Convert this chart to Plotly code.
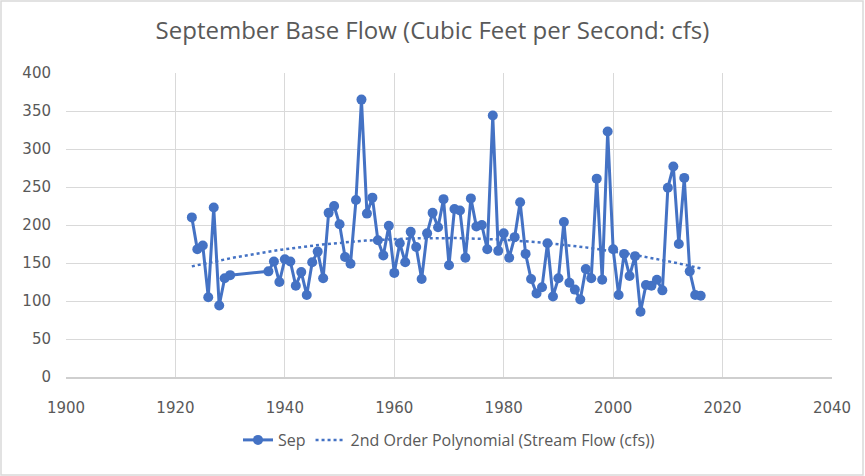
import numpy as np
import plotly.graph_objects as go

years = [1923, 1924, 1925, 1926, 1927, 1928, 1929, 1930,
         1937, 1938, 1939, 1940, 1941, 1942, 1943, 1944, 1945, 1946, 1947, 1948, 1949,
         1950, 1951, 1952, 1953, 1954, 1955, 1956, 1957, 1958, 1959,
         1960, 1961, 1962, 1963, 1964, 1965, 1966, 1967, 1968, 1969,
         1970, 1971, 1972, 1973, 1974, 1975, 1976, 1977, 1978, 1979,
         1980, 1981, 1982, 1983, 1984, 1985, 1986, 1987, 1988, 1989,
         1990, 1991, 1992, 1993, 1994, 1995, 1996, 1997, 1998, 1999,
         2000, 2001, 2002, 2003, 2004, 2005, 2006, 2007, 2008, 2009,
         2010, 2011, 2012, 2013, 2014, 2015, 2016]
sep_flow = [210, 168, 173, 105, 223, 94, 130, 134,
            139, 152, 125, 155, 152, 120, 138, 108, 151, 165, 130, 216, 225,
            201, 158, 149, 233, 365, 215, 236, 180, 160, 199,
            137, 176, 151, 191, 171, 129, 189, 216, 197, 234,
            147, 221, 219, 157, 235, 198, 200, 168, 344, 166,
            189, 157, 184, 230, 162, 129, 110, 118, 176, 106,
            130, 204, 124, 115, 102, 142, 130, 261, 128, 323,
            168, 108, 162, 133, 159, 86, 121, 120, 128, 114,
            249, 277, 175, 262, 139, 108, 107]

x_ticks = [1900, 1920, 1940, 1960, 1980, 2000, 2020, 2040]
y_ticks = [0, 50, 100, 150, 200, 250, 300, 350, 400]

blue = "#4472C4"
grey_text = "#595959"

# 2nd order polynomial trendline fitted to the data (as Excel does)
yr = np.array(years, dtype=float)
vals = np.array(sep_flow, dtype=float)
x0 = yr.mean()
coef = np.polyfit(yr - x0, vals, 2)
trend_x = np.linspace(yr.min(), yr.max(), 200)
trend_y = np.polyval(coef, trend_x - x0)

fig = go.Figure()
fig.add_trace(go.Scatter(
    x=years, y=sep_flow, mode="lines+markers", name="Sep",
    line=dict(color=blue, width=3),
    marker=dict(color=blue, size=10, symbol="circle"),
))
fig.add_trace(go.Scatter(
    x=trend_x, y=trend_y, mode="lines",
    name="2nd Order Polynomial (Stream Flow (cfs))",
    line=dict(color=blue, width=2.5, dash="3px,3px"),
))

W, H = 865, 476
ml, mr, mt, mb = 66, 33, 73, 99
pw, ph = W - ml - mr, H - mt - mb

fig.update_layout(
    width=W, height=H,
    margin=dict(l=ml, r=mr, t=mt, b=mb),
    paper_bgcolor="white", plot_bgcolor="white",
    title=dict(text="September Base Flow (Cubic Feet per Second: cfs)",
               x=0.5, xref="container", xanchor="center",
               y=1 - 31 / H, yref="container", yanchor="middle",
               font=dict(family="Open Sans", size=24, color=grey_text)),
    showlegend=True,
    legend=dict(orientation="h", x=0.5, xanchor="center",
                y=-(440 - (mt + ph)) / ph, yanchor="middle",
                font=dict(family="Open Sans", size=16, color=grey_text),
                bgcolor="rgba(0,0,0,0)"),
    xaxis=dict(range=[1900, 2040], tickvals=x_ticks, ticktext=[str(t) for t in x_ticks],
               showgrid=True, gridcolor="#d9d9d9", gridwidth=1,
               zeroline=False, showline=True, linecolor="#cfcfcf", linewidth=2,
               ticks="", ticklabelstandoff=16,
               tickfont=dict(family="DejaVu Sans", size=15, color=grey_text)),
    yaxis=dict(range=[0, 400], tickvals=y_ticks, ticktext=[str(t) for t in y_ticks],
               showgrid=True, gridcolor="#d9d9d9", gridwidth=1,
               zeroline=False, showline=False,
               ticks="", ticklabelstandoff=14,
               tickfont=dict(family="DejaVu Sans", size=15, color=grey_text)),
    shapes=[dict(type="rect", xref="paper", yref="paper",
                 x0=(1 - ml) / pw, x1=(W - ml - 2) / pw,
                 y0=-(mb - 1) / ph, y1=1 + (mt - 1) / ph,
                 line=dict(color="#d9d9d9", width=1.5), fillcolor="rgba(0,0,0,0)",
                 layer="below")],
)

fig.write_html("out.html")
